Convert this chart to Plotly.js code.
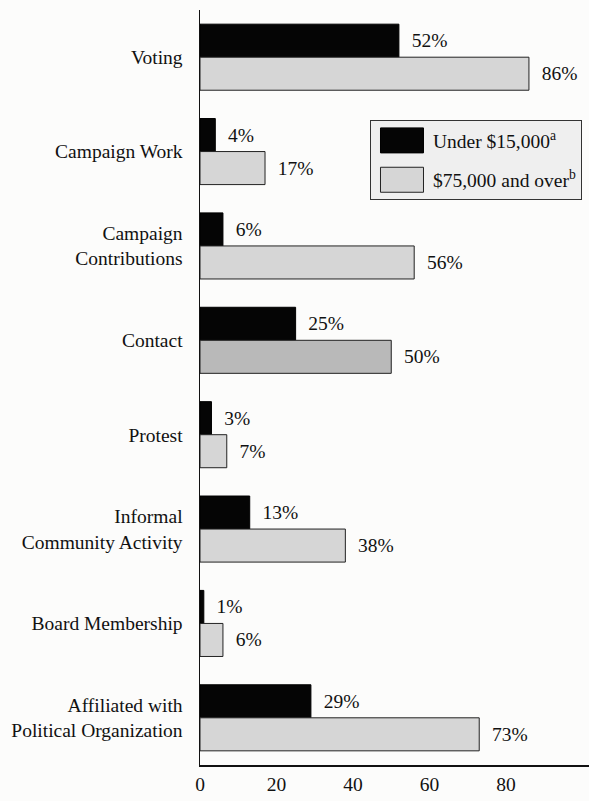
<!DOCTYPE html>
<html>
<head>
<meta charset="utf-8">
<script src="https://cdn.plot.ly/plotly-3.0.1.min.js"></script>
<style>
  html, body { margin: 0; padding: 0; background: #fcfcfb; }
  #chart { width: 589px; height: 801px; }
</style>
</head>
<body>
<div id="chart"></div>
<script>
const categories = [
  "Voting",
  "Campaign Work",
  "Campaign<br>Contributions",
  "Contact",
  "Protest",
  "Informal<br>Community Activity",
  "Board Membership",
  "Affiliated with<br>Political Organization"
];
const under15k = [52, 4, 6, 25, 3, 13, 1, 29];
const over75k = [86, 17, 56, 50, 7, 38, 6, 73];
const seriesNames = ["Under $15,000<sup>a</sup>", "$75,000 and over<sup>b</sup>"];
const xTickVals = [0, 20, 40, 60, 80];

const serif = "Liberation Serif, DejaVu Serif, serif";
const pct = v => v.map(x => "  " + x + "%");

const traces = [
  {
    type: "bar", orientation: "h", name: seriesNames[0], legendgroup: "a",
    y: categories, x: under15k, text: pct(under15k),
    textposition: "outside", cliponaxis: false,
    textfont: { family: serif, size: 19.5, color: "#111" },
    marker: { color: "#050505", line: { color: "#000", width: 1 } },
    hoverinfo: "skip"
  },
  {
    type: "bar", orientation: "h", name: seriesNames[1], legendgroup: "b",
    y: categories, x: over75k, text: pct(over75k),
    textposition: "outside", cliponaxis: false,
    textfont: { family: serif, size: 19.5, color: "#111" },
    marker: {
      color: ["#d6d6d6", "#d6d6d6", "#d6d6d6", "#b9b9b9", "#d6d6d6", "#d6d6d6", "#d6d6d6", "#d6d6d6"],
      line: { color: "#222", width: 1 }
    },
    hoverinfo: "skip"
  }
];

const layout = {
  width: 589, height: 801,
  margin: { l: 200, r: 0, t: 10, b: 36 },
  paper_bgcolor: "#fcfcfb", plot_bgcolor: "#fcfcfb",
  font: { family: serif, size: 19.5, color: "#111" },
  barmode: "group", bargap: 0.3, bargroupgap: 0,
  showlegend: true,
  legend: {
    x: 0.437, y: 0.854, xanchor: "left", yanchor: "top",
    bgcolor: "#efefef", bordercolor: "#333", borderwidth: 1,
    font: { family: serif, size: 19.5, color: "#111" },
    itemwidth: 52, tracegroupgap: 11, traceorder: "grouped"
  },
  xaxis: {
    range: [0, 101.7], tickvals: xTickVals, ticks: "", showgrid: false, zeroline: false,
    showline: true, linecolor: "#111", linewidth: 1.5,
    ticklabelstandoff: 1, tickfont: { family: serif, size: 19.5, color: "#111" },
    fixedrange: true
  },
  yaxis: {
    autorange: "reversed", type: "category", ticks: "", showgrid: false, zeroline: false,
    showline: true, linecolor: "#111", linewidth: 1.5,
    ticklabelstandoff: 12, tickfont: { family: serif, size: 19.5, color: "#111" },
    fixedrange: true
  }
};

Plotly.newPlot("chart", traces, layout, { displayModeBar: false, staticPlot: true }).then(() => {
  // enlarge legend swatches to match the printed key
  document.querySelectorAll("#chart .legendpoints path").forEach(p => {
    p.setAttribute("d", "M21.5,12.5H-21.5V-12.5H21.5Z");
  });
});
</script>
</body>
</html>
